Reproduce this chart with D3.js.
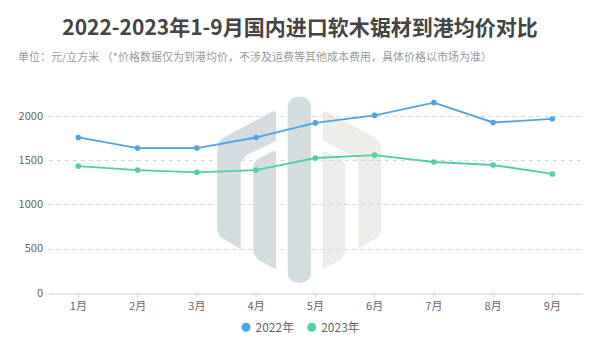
<!DOCTYPE html>
<html><head><meta charset="utf-8">
<script src="https://cdn.jsdelivr.net/npm/d3@7/dist/d3.min.js"></script>
<style>
html,body{margin:0;padding:0;background:#fff;}
svg{display:block;font-family:"Noto Sans CJK SC","Noto Sans",sans-serif;}
</style></head>
<body><svg id="c" width="600" height="359"></svg>
<script>
const months = ["1月","2月","3月","4月","5月","6月","7月","8月","9月"];
const seriesNames = ["2022年","2023年"];
const values2022 = [1760,1640,1640,1760,1925,2010,2155,1930,1970];
const values2023 = [1435,1390,1365,1390,1527,1560,1482,1448,1346];
const yTicks = [0,500,1000,1500,2000];
const colors = ["#4ea3e3","#4fd1a0"];

const svg = d3.select("#c");
const W = 600, H = 359;
const m = {left:48.7, right:18, top:94, bottom:66.3};
const x = d3.scaleBand().domain(months).range([m.left, W - m.right]);
const y = d3.scaleLinear().domain([0,2400]).range([H - m.bottom, H - m.bottom - 176.4*1.2]);

// watermark logo (decorative)
const wm = svg.append("g");
const cx = 299.3;
const leftOuter = [[217.3,146.7],[221,139],[274,110.7],[276,112.7],[276,140.7],[246.7,155],[240.7,162],[240.7,249.3],[220,236.7],[217.3,230]];
const leftInner = [[253.3,165],[256,160],[274,150.7],[276,152],[276,269.3],[258.3,260],[253.3,253.3]];
const mirror = pts => pts.map(p => [2*cx - p[0], p[1]]);
const line0 = d3.line().curve(d3.curveLinearClosed);
wm.append("path").attr("d", line0(leftOuter)).attr("fill","#d3dcde");
wm.append("path").attr("d", line0(leftInner)).attr("fill","#d3dcde");
wm.append("path").attr("d", line0(mirror(leftOuter))).attr("fill","#eeedea");
wm.append("path").attr("d", line0(mirror(leftInner))).attr("fill","#eeedea");
wm.append("rect").attr("x",287.7).attr("y",96.7).attr("width",23.3).attr("height",186)
  .attr("rx",10).attr("fill","#d3dcde");

// grid
svg.append("g").selectAll("line").data(yTicks.filter(d=>d>0)).join("line")
  .attr("x1", m.left).attr("x2", W - m.right)
  .attr("y1", d=>Math.round(y(d))+0.5).attr("y2", d=>Math.round(y(d))+0.5)
  .attr("stroke","#d6d6d6").attr("stroke-dasharray","4,4");

// y labels
svg.append("g").selectAll("text").data(yTicks).join("text")
  .attr("x", 43).attr("y", d=>y(d)).attr("dy","0.35em")
  .attr("text-anchor","end").attr("font-size",11).attr("fill","#666")
  .text(d=>d);

// x axis
const xa = svg.append("g").attr("transform",`translate(0,${Math.round(y(0))+0.5})`)
  .call(d3.axisBottom(x).tickSize(4).tickPadding(5).tickSizeOuter(0));
xa.select(".domain").attr("stroke","#ccc");
xa.selectAll(".tick line").attr("stroke","#ccc");
xa.selectAll(".tick text").attr("fill","#666").attr("font-size",11)
  .attr("font-family","'Noto Sans CJK SC',sans-serif");

// lines
const xc = d => x(d) + x.bandwidth()/2;
const series = [values2022, values2023];
series.forEach((vals,i)=>{
  const pts = months.map((mo,j)=>[xc(mo), y(vals[j])]);
  svg.append("path").attr("d", d3.line()(pts)).attr("fill","none")
    .attr("stroke",colors[i]).attr("stroke-width",1.8);
  svg.append("g").selectAll("circle").data(pts).join("circle")
    .attr("cx",d=>d[0]).attr("cy",d=>d[1]).attr("r",2.8).attr("fill",colors[i]);
});

// title
svg.append("text").attr("x",300).attr("y",35).attr("text-anchor","middle")
  .attr("font-size",21).attr("font-weight","bold").attr("fill","#444")
  .text("2022-2023年1-9月国内进口软木锯材到港均价对比");
svg.append("text").attr("x",18).attr("y",61).attr("font-size",11).attr("fill","#999")
  .text("单位：元/立方米 （*价格数据仅为到港均价，不涉及运费等其他成本费用，具体价格以市场为准）");

// legend
const lg = svg.append("g");
const lx = [246, 311.7];
seriesNames.forEach((n,i)=>{
  lg.append("circle").attr("cx",lx[i]).attr("cy",327.3).attr("r",4.5).attr("fill",colors[i]);
  lg.append("text").attr("x",lx[i]+9.5).attr("y",327.3).attr("dy","0.36em")
    .attr("font-size",12).attr("fill","#666").text(n);
});
</script></body></html>
